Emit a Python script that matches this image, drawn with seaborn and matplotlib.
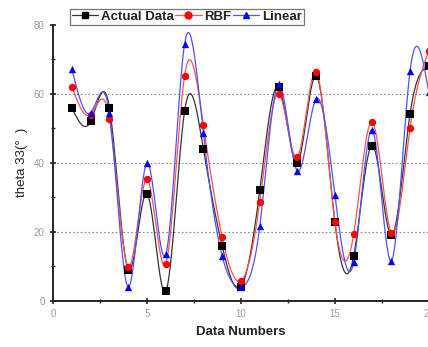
import numpy as np
import pandas as pd
import seaborn as sns
import matplotlib.pyplot as plt
from matplotlib.lines import Line2D

data_numbers = list(range(1, 21))
actual = [56, 52, 56, 9, 31, 2.7, 55, 44, 15.8, 4, 32, 62, 40, 65.3, 22.7, 12.9, 45, 19, 54.2, 68]
rbf = [62.1, 54, 52.8, 9.8, 35.2, 10.7, 65.3, 50.9, 18.4, 5.7, 28.6, 60.1, 41.6, 66.3, 22.8, 19.3, 51.9, 19.7, 50.1, 72.5]
linear = [67.2, 54.5, 54.3, 3.9, 39.9, 13.4, 74.5, 48.5, 12.9, 3.9, 21.5, 62.8, 37.6, 58.5, 30.7, 11.2, 49.4, 11.5, 66.7, 60.4]

series_names = ["Actual Data", "RBF", "Linear"]
series_colors = {"Actual Data": "black", "RBF": "red", "Linear": "blue"}
line_colors = {"Actual Data": "#333333", "RBF": "#ff5050", "Linear": "#5050ff"}
series_markers = {"Actual Data": "s", "RBF": "o", "Linear": "^"}


def natural_spline(x, y, n=600):
    # natural cubic spline used only to draw the connecting curve
    x = np.asarray(x, float)
    y = np.asarray(y, float)
    k = len(x)
    h = np.diff(x)
    A = np.zeros((k, k))
    b = np.zeros(k)
    A[0, 0] = A[-1, -1] = 1
    for i in range(1, k - 1):
        A[i, i - 1] = h[i - 1]
        A[i, i] = 2 * (h[i - 1] + h[i])
        A[i, i + 1] = h[i]
        b[i] = 6 * ((y[i + 1] - y[i]) / h[i] - (y[i] - y[i - 1]) / h[i - 1])
    M = np.linalg.solve(A, b)
    xs = np.linspace(x[0], x[-1], n)
    idx = np.clip(np.searchsorted(x, xs) - 1, 0, k - 2)
    x0, x1 = x[idx], x[idx + 1]
    hh = x1 - x0
    t0 = x1 - xs
    t1 = xs - x0
    ys = (M[idx] * t0 ** 3 + M[idx + 1] * t1 ** 3) / (6 * hh) \
        + (y[idx] / hh - M[idx] * hh / 6) * t0 \
        + (y[idx + 1] / hh - M[idx + 1] * hh / 6) * t1
    return xs, ys


points = pd.DataFrame({
    "x": data_numbers * 3,
    "theta": actual + rbf + linear,
    "series": np.repeat(series_names, len(data_numbers)),
})

curves = []
for name, vals in zip(series_names, [actual, rbf, linear]):
    xs, ys = natural_spline(data_numbers, vals)
    curves.append(pd.DataFrame({"x": xs, "theta": ys, "series": name}))
curves = pd.concat(curves, ignore_index=True)

sns.set_style("ticks")
plt.rcParams["font.family"] = ["Liberation Sans", "DejaVu Sans"]

fig = plt.figure(figsize=(4.28, 3.47), dpi=100)
ax = fig.add_axes([0.124, 0.134, 0.878, 0.794])

for y in [20, 40, 60]:
    ax.axhline(y, color="#888888", linestyle=(0, (1.5, 2)), linewidth=0.8, zorder=0)

sns.lineplot(data=curves, x="x", y="theta", hue="series", palette=line_colors,
             hue_order=series_names, linewidth=0.9, legend=False, ax=ax, sort=False,
             estimator=None)
for name in series_names:
    sub = points[points["series"] == name]
    ax.scatter(sub["x"], sub["theta"], marker=series_markers[name], s=28,
               color=series_colors[name], zorder=3, linewidths=0)

ax.set_xlim(0, 20)
ax.set_ylim(0, 80)
ax.set_xticks([0, 5, 10, 15, 20])
ax.set_yticks([0, 20, 40, 60, 80])
ax.set_xticks([2.5, 7.5, 12.5, 17.5], minor=True)
ax.set_yticks([10, 30, 50, 70], minor=True)
ax.tick_params(axis="both", which="major", labelsize=7, labelcolor="#999999",
               length=5, width=1.2, direction="inout")
ax.tick_params(axis="both", which="minor", length=3, width=1, direction="inout")
sns.despine(ax=ax)
for s in ["left", "bottom"]:
    ax.spines[s].set_linewidth(1.4)

ax.set_xlabel("Data Numbers", fontsize=9.5, fontweight="bold", color="#222222", labelpad=5)
ax.set_ylabel("theta 33(°  )", fontsize=9.5, color="#222222", labelpad=4)

handles = [Line2D([0], [0], color=line_colors[n], marker=series_markers[n],
                  markerfacecolor=series_colors[n], markeredgecolor=series_colors[n],
                  markersize=5, linewidth=0.9) for n in series_names]
leg = ax.legend(handles, series_names, loc="center left", bbox_to_anchor=(0.045, 1.03),
                ncol=3, frameon=True, fancybox=False, edgecolor="#555555",
                prop={"size": 9.5, "weight": "bold"},
                handlelength=2.0, handletextpad=0.2, columnspacing=0.1,
                borderpad=0.15, borderaxespad=0)
for t in leg.get_texts():
    t.set_color("#222222")
leg.get_frame().set_linewidth(0.9)

fig.savefig("out.png", dpi=100)
